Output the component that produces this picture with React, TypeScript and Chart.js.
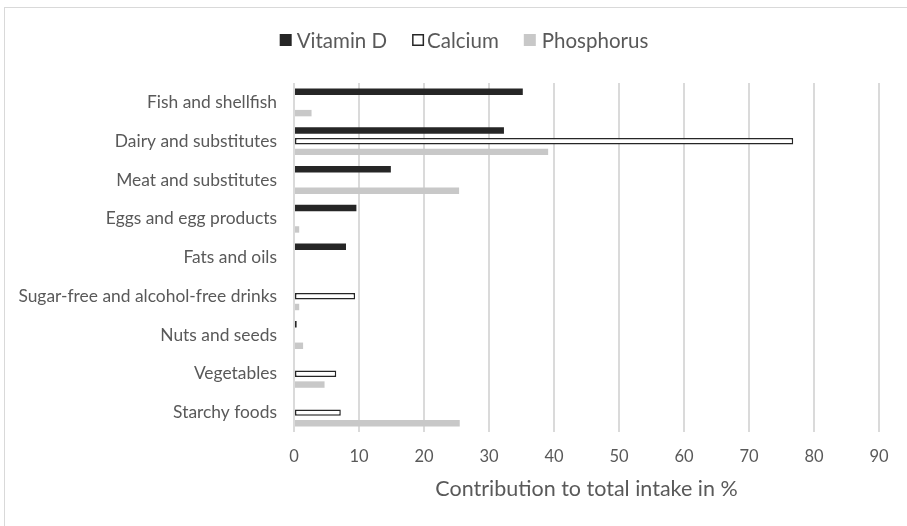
import React, { useEffect, useRef } from "react";
import { Chart, registerables } from "chart.js";

Chart.register(...registerables);

const categories = [
  "Fish and shellfish",
  "Dairy and substitutes",
  "Meat and substitutes",
  "Eggs and egg products",
  "Fats and oils",
  "Sugar-free and alcohol-free drinks",
  "Nuts and seeds",
  "Vegetables",
  "Starchy foods",
];
const vitaminD = [35.2, 32.3, 14.9, 9.6, 8.0, null, 0.4, null, null];
const calcium = [null, 76.8, null, null, null, 9.4, null, 6.5, 7.2];
const phosphorus = [2.7, 39.1, 25.4, 0.8, null, 0.8, 1.4, 4.7, 25.5];
const seriesNames = ["Vitamin D", "Calcium", "Phosphorus"];
const xTicks = [0, 10, 20, 30, 40, 50, 60, 70, 80, 90];
const axisTitle = "Contribution to total intake in %";

const FONT = "Lato";
const TEXT = "#595959";
const DARK = "#262626";
const LIGHT = "#c8c8c8";

const legendPlugin = {
  id: "customLegend",
  afterDraw(chart: any) {
    const ctx = chart.ctx;
    ctx.save();
    ctx.font = `20.5px ${FONT}`;
    ctx.textBaseline = "middle";
    const box = 12;
    const gaps = [5, 3, 6];
    const gapItems = 25;
    const widths = seriesNames.map((n, i) => box + gaps[i] + ctx.measureText(n).width);
    const total = widths.reduce((a, b) => a + b, 0) + gapItems * (widths.length - 1);
    let x = 464 - total / 2;
    const cy = 40;
    seriesNames.forEach((n, i) => {
      const ds = chart.data.datasets[i];
      if (i === 1) {
        ctx.fillStyle = "#ffffff";
        ctx.fillRect(x, cy - box / 2, box, box);
        ctx.strokeStyle = DARK;
        ctx.lineWidth = 1.5;
        ctx.strokeRect(x + 0.75, cy - box / 2 + 0.75, box - 1.5, box - 1.5);
      } else {
        ctx.fillStyle = ds.backgroundColor;
        ctx.fillRect(x, cy - box / 2, box, box);
      }
      ctx.fillStyle = TEXT;
      ctx.fillText(n, x + box + gaps[i], cy + 1);
      x += widths[i] + gapItems;
    });
    ctx.restore();
  },
};

export default function App() {
  const ref = useRef<HTMLCanvasElement>(null);
  useEffect(() => {
    if (!ref.current) return;
    const chart = new Chart(ref.current, {
      type: "bar",
      data: {
        labels: categories,
        datasets: [
          {
            label: seriesNames[0],
            data: vitaminD,
            backgroundColor: DARK,
            borderColor: DARK,
            borderWidth: 0,
          },
          {
            label: seriesNames[1],
            data: calcium,
            backgroundColor: "#ffffff",
            borderColor: DARK,
            borderWidth: 1.5,
            borderSkipped: false,
          },
          {
            label: seriesNames[2],
            data: phosphorus,
            backgroundColor: LIGHT,
            borderWidth: 0,
          },
        ],
      },
      options: {
        indexAxis: "y",
        responsive: false,
        animation: false,
        devicePixelRatio: 1,
        categoryPercentage: 0.83,
        barPercentage: 0.6,
        layout: { padding: { top: 83, right: 28, left: 0, bottom: 0 } },
        plugins: {
          legend: { display: false },
          tooltip: { enabled: false },
        },
        scales: {
          x: {
            min: 0,
            max: 90,
            afterBuildTicks: (scale: any) => {
              scale.ticks = xTicks.map((v) => ({ value: v }));
            },
            afterFit: (scale: any) => {
              scale.height = 94;
            },
            grid: { color: "#dadada", lineWidth: 2, drawTicks: false },
            border: { display: false },
            ticks: {
              color: TEXT,
              font: { family: FONT, size: 16.5 },
              padding: 15,
            },
            title: {
              display: true,
              text: axisTitle,
              color: TEXT,
              font: { family: FONT, size: 21.5 },
              padding: { top: 0, bottom: 24 },
            },
          },
          y: {
            afterFit: (scale: any) => {
              scale.width = 294;
            },
            grid: { display: false, drawTicks: false },
            border: { display: false },
            ticks: {
              color: TEXT,
              font: { family: FONT, size: 17.4 },
              padding: 17,
            },
          },
        },
      },
      plugins: [legendPlugin],
    });
    return () => chart.destroy();
  }, []);

  return (
    <div
      style={{
        position: "fixed",
        left: 0,
        top: 0,
        width: 907,
        height: 526,
        background: "#ffffff",
        overflow: "hidden",
      }}
    >
      <div
        style={{
          position: "absolute",
          left: 4,
          top: 7,
          width: 1000,
          height: 1000,
          border: "1px solid #d9d9d9",
          boxSizing: "border-box",
        }}
      />
      <canvas
        ref={ref}
        width={907}
        height={526}
        style={{ position: "absolute", left: 0, top: 0, width: 907, height: 526 }}
      />
    </div>
  );
}
